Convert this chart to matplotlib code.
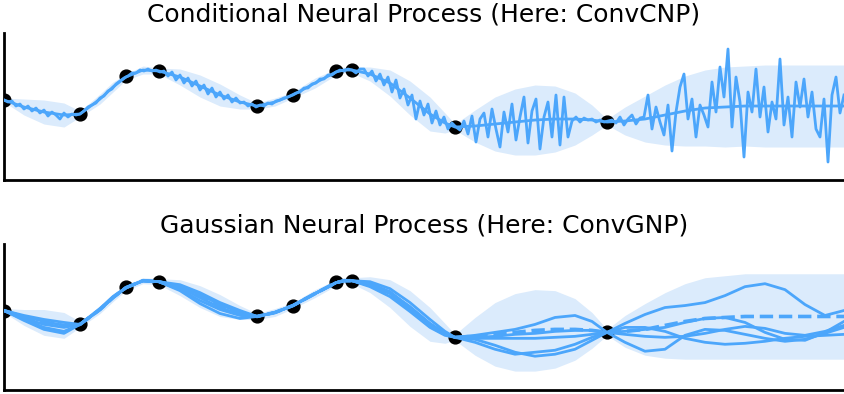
import matplotlib
matplotlib.use("Agg")
import matplotlib.pyplot as plt
import numpy as np

# shared input grid (arbitrary units, 0..840)
grid_x = [0, 20, 40, 60, 76, 96, 109, 122, 139, 155,
          176, 196, 216, 236, 253, 271, 289, 311, 332, 340,
          348, 366, 386, 406, 426, 441, 451, 471, 491, 511,
          531, 551, 571, 588, 603, 621, 641, 661, 681, 701,
          721, 741, 761, 781, 801, 821, 840]

# context set
context_x = [0, 76, 122, 155, 253, 289, 332, 348, 451, 603]
context_y = [7, -7, 31, 36, 1, 12, 36, 37, -20, -15]

# predictive mean (both models)
mean_y = [7, 0, -5, -8, -7, 8, 20, 30, 37, 36,
          30, 21, 12, 5, 1, 5, 12, 24, 35, 37,
          37, 33, 24, 9, -7, -16, -20, -19, -17, -15,
          -13, -12, -12, -13, -15, -14, -12, -8, -4, -1,
          0, 1, 1, 1, 1, 1, 1]

# half-width of the marginal credible band
cnp_halfwidth = [2, 8, 12, 12, 3, 5, 5, 3, 4, 3,
                 8, 11, 11, 7, 3, 4, 3, 5, 3, 3,
                 3, 7, 13, 17, 17, 10, 3, 16, 27, 33,
                 35, 33, 26, 15, 3, 14, 23, 30, 35, 38,
                 40, 40, 41, 41, 41, 41, 41]
gnp_halfwidth = [2, 8, 13, 13, 3, 4, 4, 3, 3, 3,
                 8, 11, 11, 7, 3, 4, 3, 4, 3, 3,
                 3, 8, 14, 18, 17, 10, 3, 19, 32, 39,
                 41, 39, 31, 18, 3, 16, 26, 33, 38, 41,
                 42, 43, 43, 43, 43, 43, 43]

# ConvCNP sample (independent noise), one value every 4 units
cnp_sample = [7, 5, 6, 1, 3, -2, 1, -4, -1, -6,
              -3, -9, -5, -8, -12, -6, -10, -7, -8, -7,
              -4, 0, 2, 4, 9, 11, 16, 18, 23, 26,
              29, 31, 34, 34, 37, 36, 38, 36, 37, 35,
              36, 31, 35, 27, 32, 24, 29, 21, 26, 17,
              22, 13, 19, 10, 15, 8, 12, 5, 9, 4,
              5, 1, 3, 0, 2, 1, 4, 3, 6, 7,
              9, 10, 12, 14, 15, 19, 19, 23, 24, 28,
              28, 32, 32, 35, 37, 36, 38, 37, 34, 38,
              38, 31, 36, 26, 33, 22, 30, 15, 27, 9,
              18, 2, 12, -12, 6, -8, 3, -16, -4, -18,
              -10, -22, -16, -20, -23, -14, -27, -9, -35, -12,
              -6, -30, -2, -22, -40, -5, -25, 3, -33, -10,
              10, -36, -4, 8, -42, -10, 5, -30, 12, -38,
              10, -30, -14, -10, -15, -11, -13, -12, -15, -13,
              -15, -14, -13, -16, -10, -18, -12, -8, -17, -11,
              -10, 12, -22, 0, -15, -28, 2, -44, -5, 20,
              33, -12, 8, -30, 2, -8, -20, 25, -5, 40,
              10, 58, -20, 30, 5, -50, 15, -5, 38, -10,
              20, -25, 5, -12, 48, -18, 10, -30, 25, 0,
              28, -10, 15, -22, -30, 8, -55, 12, 30, -6,
              12]

# ConvGNP samples (correlated)
gnp_samples = [
    [7, 2, -2, -5, -7, 8, 20, 30, 37, 36,
     33, 25, 15, 7, 1, 5, 12, 24, 35, 37,
     37, 36, 29, 15, -2, -14, -20, -18, -15, -12,
     -7, 0, 2, -4, -15, -6, 3, 10, 12, 15,
     22, 31, 34, 28, 13, 2, 7],
    [7, -1, -7, -10, -7, 9, 21, 30, 37, 36,
     28, 17, 8, 2, 1, 5, 12, 24, 35, 37,
     37, 31, 21, 6, -10, -18, -20, -21, -21, -21,
     -21, -20, -19, -17, -15, -14, -12, -10, -5, -1,
     0, -5, -15, -22, -23, -15, -4],
    [7, -3, -12, -16, -7, 8, 20, 30, 37, 36,
     27, 14, 4, -1, 1, 5, 12, 24, 35, 37,
     37, 34, 26, 10, -7, -16, -20, -25, -32, -37,
     -35, -33, -27, -20, -15, -25, -34, -32, -18, -12,
     -13, -17, -21, -24, -22, -16, -10],
    [7, -2, -10, -14, -7, 8, 20, 30, 37, 36,
     30, 20, 10, 3, 1, 5, 12, 24, 35, 37,
     37, 32, 24, 8, -9, -17, -20, -22, -28, -35,
     -39, -37, -32, -23, -15, -10, -10, -14, -21, -25,
     -27, -26, -24, -21, -19, -18, -17],
    [7, 1, -4, -8, -7, 8, 20, 30, 37, 36,
     31, 23, 13, 5, 1, 5, 12, 24, 35, 37,
     37, 34, 25, 11, -6, -16, -20, -20, -19, -17,
     -16, -14, -13, -13, -15, -17, -19, -20, -19, -16,
     -12, -9, -11, -16, -18, -14, -8],
]

titles = ["Conditional Neural Process (Here: ConvCNP)",
          "Gaussian Neural Process (Here: ConvGNP)"]

LINE = "#4ca6fb"
BAND = "#dbebfc"


def style_axes(ax, title):
    ax.set_xlim(0, 840)
    ax.set_ylim(-73, 74)
    ax.set_xticks([])
    ax.set_yticks([])
    ax.spines["top"].set_visible(False)
    ax.spines["right"].set_visible(False)
    ax.spines["left"].set_linewidth(2)
    ax.spines["bottom"].set_linewidth(2)
    ax.set_title(title, fontsize=18, pad=8)


def main() -> None:
    fig = plt.figure(figsize=(8.44, 3.94), dpi=100)
    ax_top = fig.add_axes([0.0047, 0.5431, 0.9953, 0.3731])
    ax_bot = fig.add_axes([0.0047, 0.0102, 0.9953, 0.3706])

    gx = np.array(grid_x)
    mu = np.array(mean_y)

    # ConvCNP
    hw = np.array(cnp_halfwidth)
    ax_top.fill_between(gx, mu - hw, mu + hw, color=BAND, lw=0, zorder=1)
    ax_top.scatter(context_x, context_y, s=85, c="black", zorder=2)
    ax_top.plot(gx, mu, color=LINE, lw=2, zorder=3)
    ax_top.plot(np.arange(0, 841, 4), cnp_sample, color=LINE, lw=2, zorder=4)
    style_axes(ax_top, titles[0])

    # ConvGNP
    hw = np.array(gnp_halfwidth)
    ax_bot.fill_between(gx, mu - hw, mu + hw, color=BAND, lw=0, zorder=1)
    ax_bot.scatter(context_x, context_y, s=85, c="black", zorder=2)
    for sample in gnp_samples:
        ax_bot.plot(gx, sample, color=LINE, lw=2, zorder=3)
    ax_bot.plot(gx, mu, color=LINE, lw=2.6, ls="--", zorder=4)
    style_axes(ax_bot, titles[1])

    fig.savefig("out.png", dpi=100)


if __name__ == "__main__":
    main()
